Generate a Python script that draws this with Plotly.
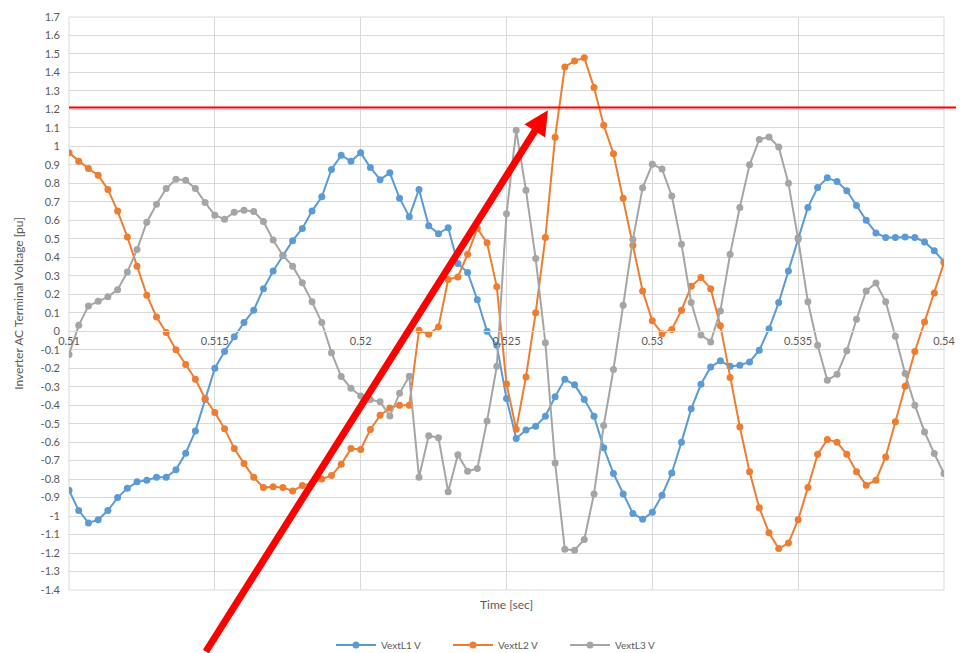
import plotly.graph_objects as go

# ---- data ----
TIME_START = 0.51
TIME_STEP = 1 / 3000  # sampling interval in seconds
N_POINTS = 91

vext_l1 = [-0.86, -0.97, -1.037, -1.02, -0.97, -0.90, -0.85, -0.815, -0.806, -0.79,
           -0.79, -0.75, -0.66, -0.54, -0.37, -0.20, -0.11, -0.03, 0.047, 0.114,
           0.23, 0.326, 0.41, 0.49, 0.556, 0.65, 0.727, 0.875, 0.952, 0.92,
           0.965, 0.886, 0.82, 0.857, 0.72, 0.62, 0.767, 0.57, 0.528, 0.56,
           0.366, 0.318, 0.17, 0.0, -0.076, -0.364, -0.58, -0.535, -0.514, -0.46,
           -0.355, -0.26, -0.29, -0.37, -0.46, -0.63, -0.77, -0.88, -0.986, -1.017,
           -0.98, -0.887, -0.767, -0.60, -0.42, -0.287, -0.193, -0.16, -0.19, -0.184,
           -0.166, -0.103, 0.013, 0.155, 0.326, 0.505, 0.67, 0.777, 0.83, 0.81,
           0.76, 0.68, 0.60, 0.532, 0.507, 0.507, 0.51, 0.507, 0.483, 0.435,
           0.375]

vext_l2 = [0.965, 0.92, 0.88, 0.844, 0.767, 0.65, 0.51, 0.352, 0.195, 0.077,
           -0.007, -0.10, -0.18, -0.26, -0.364, -0.44, -0.527, -0.635, -0.716, -0.79,
           -0.846, -0.842, -0.846, -0.864, -0.835, -0.822, -0.80, -0.78, -0.72, -0.635,
           -0.64, -0.532, -0.455, -0.415, -0.40, -0.40, 0.005, -0.016, 0.023, 0.28,
           0.294, 0.417, 0.556, 0.478, 0.24, -0.285, -0.53, -0.247, 0.10, 0.507,
           1.05, 1.43, 1.462, 1.48, 1.318, 1.115, 0.96, 0.72, 0.465, 0.218,
           0.056, -0.013, 0.01, 0.114, 0.243, 0.29, 0.23, 0.03, -0.25, -0.518,
           -0.76, -0.955, -1.09, -1.176, -1.146, -1.02, -0.846, -0.666, -0.586, -0.60,
           -0.666, -0.76, -0.833, -0.806, -0.68, -0.49, -0.298, -0.11, 0.05, 0.207,
           0.372]

vext_l3 = [-0.126, 0.032, 0.137, 0.162, 0.186, 0.225, 0.32, 0.442, 0.59, 0.687,
           0.772, 0.822, 0.817, 0.772, 0.696, 0.628, 0.606, 0.644, 0.655, 0.648,
           0.594, 0.494, 0.41, 0.352, 0.262, 0.159, 0.047, -0.116, -0.245, -0.308,
           -0.35, -0.37, -0.381, -0.458, -0.336, -0.243, -0.79, -0.565, -0.576, -0.868,
           -0.668, -0.758, -0.743, -0.486, -0.19, 0.635, 1.087, 0.763, 0.393, -0.063,
           -0.713, -1.18, -1.185, -1.127, -0.88, -0.51, -0.207, 0.14, 0.496, 0.776,
           0.904, 0.877, 0.732, 0.47, 0.155, -0.02, -0.058, 0.11, 0.417, 0.67,
           0.90, 1.037, 1.051, 0.997, 0.80, 0.498, 0.16, -0.076, -0.265, -0.233,
           -0.106, 0.065, 0.218, 0.261, 0.159, -0.027, -0.229, -0.40, -0.545, -0.662,
           -0.77]

series_names = ["VextL1 V", "VextL2 V", "VextL3 V"]
series_colors = ["#5B9BD5", "#ED7D31", "#A5A5A5"]

x_tick_vals = [0.51, 0.515, 0.52, 0.525, 0.53, 0.535, 0.54]
x_tick_text = ["0.51", "0.515", "0.52", "0.525", "0.53", "0.535", "0.54"]
y_tick_vals = [round(-1.4 + 0.1 * k, 1) for k in range(32)]
y_tick_text = [("%g" % v) for v in y_tick_vals]

limit_level = 1.21  # red horizontal limit line
arrow_tip = (0.52642, 1.196)

time = [round(TIME_START + i * TIME_STEP, 6) for i in range(N_POINTS)]

FONT = "Lato, 'Open Sans', sans-serif"
GREY_TXT = "#595959"
GRID = "#D9D9D9"

W, H = 956, 645  # page has an 8px body margin

fig = go.Figure()
for name, vals, col in zip(series_names, [vext_l1, vext_l2, vext_l3], series_colors):
    fig.add_trace(go.Scatter(
        x=time, y=vals, name=name, mode="lines+markers",
        line=dict(color=col, width=2),
        marker=dict(color=col, size=7),
    ))

fig.update_layout(
    width=W, height=H,
    margin=dict(l=61, r=20, t=9, b=63, autoexpand=False),
    paper_bgcolor="white", plot_bgcolor="white",
    font=dict(family=FONT, color=GREY_TXT, size=11),
    showlegend=True,
    legend=dict(orientation="h", x=0.5, xanchor="center",
                yref="container", y=8 / H, yanchor="middle",
                font=dict(size=10, color=GREY_TXT), itemwidth=40,
                entrywidth=62, entrywidthmode="pixels"),
    xaxis=dict(range=[0.51, 0.54], tickvals=x_tick_vals, ticktext=x_tick_text,
               showgrid=True, gridcolor=GRID, gridwidth=1, automargin=False,
               zeroline=False, showline=True, linecolor=GRID, linewidth=1,
               anchor="free", position=1.4 / 3.1, ticks="",
               tickfont=dict(size=11, color=GREY_TXT)),
    yaxis=dict(range=[-1.4, 1.7], tickvals=y_tick_vals, ticktext=y_tick_text,
               showgrid=True, gridcolor=GRID, gridwidth=1, zeroline=False,
               showline=False, ticks="", ticklabelstandoff=8, automargin=False,
               tickfont=dict(size=11, color=GREY_TXT),
               title=dict(text="Inverter AC Terminal Voltage [pu]",
                          font=dict(size=12, color=GREY_TXT), standoff=14)),
)

# outer borders of plot area
fig.add_shape(type="rect", xref="paper", yref="paper", x0=0, x1=1, y0=0, y1=1,
              line=dict(color=GRID, width=1), layer="below")

fig.add_annotation(text="Time [sec]", xref="paper", yref="paper", x=0.5, y=-0.026,
                   yanchor="middle", showarrow=False,
                   font=dict(size=12, color=GREY_TXT))

# red limit line extending past the plot area to the right edge
fig.add_shape(type="line", xref="paper", yref="y", x0=0, x1=1.03,
              y0=limit_level, y1=limit_level,
              line=dict(color="#FF0000", width=2), layer="above")

# red arrow
fig.add_annotation(x=arrow_tip[0], y=arrow_tip[1], xref="x", yref="y",
                   ax=-343, ay=545, axref="pixel", ayref="pixel",
                   text="", showarrow=True, arrowhead=2, arrowsize=0.7,
                   arrowwidth=7, arrowcolor="#FF0000", standoff=0)

fig.write_html("out.html")
